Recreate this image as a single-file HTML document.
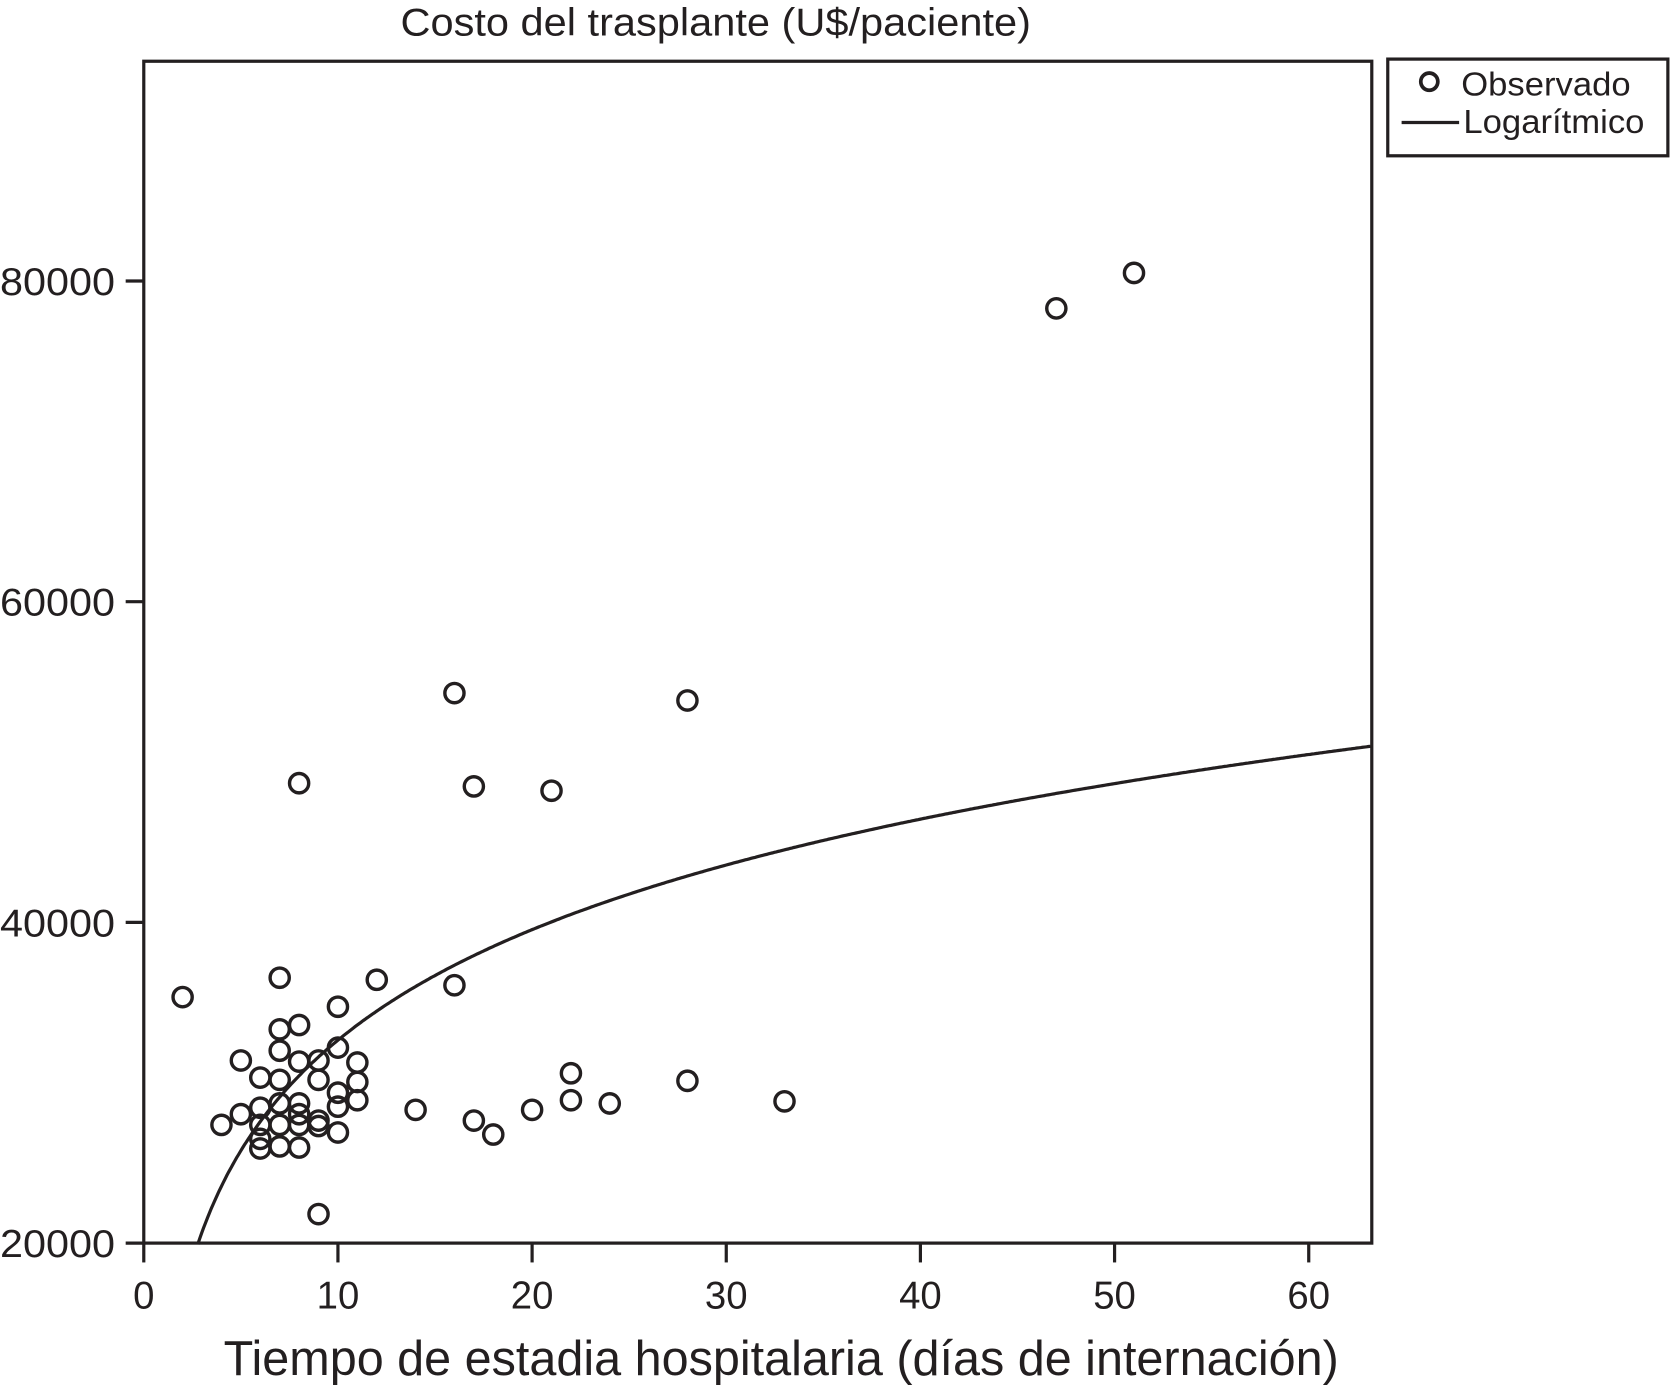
<!DOCTYPE html>
<html><head><meta charset="utf-8"><style>
html,body{margin:0;padding:0;background:#fff;}
svg{display:block;}
text{font-family:"Liberation Sans",sans-serif;fill:#231f20;}
</style></head><body>
<svg id="chart" width="1670" height="1386" viewBox="0 0 1568 1290" preserveAspectRatio="none" xmlns="http://www.w3.org/2000/svg">
<text x="376" y="33" font-size="36" textLength="592" lengthAdjust="spacingAndGlyphs">Costo del trasplante (U$/paciente)</text>
<rect x="135" y="57" width="1153" height="1100" fill="none" stroke="#231f20" stroke-width="3"/>
<g id="axes"></g>
<g id="curve"></g>
<g id="points"></g>
<text x="210" y="1280" font-size="46" textLength="1047" lengthAdjust="spacingAndGlyphs">Tiempo de estadia hospitalaria (días de internación)</text>
<g>
<rect x="1303" y="55" width="263" height="90" fill="#fff" stroke="#231f20" stroke-width="3"/>
<circle cx="1342" cy="76" r="8" fill="none" stroke="#231f20" stroke-width="3.5"/>
<text x="1372" y="89" font-size="31" textLength="159" lengthAdjust="spacingAndGlyphs">Observado</text>
<line x1="1316" y1="114" x2="1370" y2="114" stroke="#231f20" stroke-width="3"/>
<text x="1374" y="124" font-size="31" textLength="170" lengthAdjust="spacingAndGlyphs">Logarítmico</text>
</g>
</svg>
<script>
const xs = [2,7,12,16,10,7,8,7,10,5,8,9,11,6,7,9,11,10,7,11,6,5,4,6,7,9,9,10,10,6,6,7,8,8,8,8,9,14,17,18,20,22,22,24,28,33,16,28,8,17,21,47,51];
const ys = [35340,36550,36420,36080,34740,33330,33600,32000,32190,31390,31320,31390,31260,30320,30180,30180,30050,29380,28710,28910,28440,28040,27370,27370,27370,27640,27300,28510,26900,26500,25900,26030,25960,28710,28040,27370,21810,28310,27640,26770,28310,30590,28910,28710,30120,28840,54300,53840,48680,48480,48210,78290,80500];
const xTicks = [0,10,20,30,40,50,60];
const yTicks = [20000,40000,60000,80000];
const fitA = 9763, fitB = 9942;
const NS = "http://www.w3.org/2000/svg";
const X = v => 135 + v * 18.23;
const Y = v => 1157 - (v - 20000) * 0.014925;
function mk(tag, attrs, parent){const e=document.createElementNS(NS,tag);for(const k in attrs)e.setAttribute(k,attrs[k]);parent.appendChild(e);return e;}
const axes=document.getElementById('axes');
xTicks.forEach(t=>{
  const l=mk('line',{x1:X(t),x2:X(t),y1:1157,y2:1175,stroke:'#231f20','stroke-width':3},axes);
  
  
  const tx=mk('text',{x:X(t),y:1218,'font-size':36,'text-anchor':'middle'},axes);
  tx.textContent=t;
  
  
});
yTicks.forEach(t=>{
  const l=mk('line',{x1:118,x2:135,y1:Y(t),y2:Y(t),stroke:'#231f20','stroke-width':3},axes);
  
  
  const tx=mk('text',{x:0,y:Y(t)+13,'font-size':36,textLength:108,lengthAdjust:'spacingAndGlyphs'},axes);
  tx.textContent=t;
  
  
});
let d='';
for(let x=2.78;x<=63.25;x+=0.1){const y=fitA+fitB*Math.log(x);d+=(d?'L':'M')+X(x).toFixed(1)+','+Y(y).toFixed(1);}
const p=mk('path',{d:d,fill:'none',stroke:'#231f20','stroke-width':3},document.getElementById('curve'));


const pts=document.getElementById('points');
xs.forEach((x,i)=>{
  const c=mk('circle',{cx:X(x),cy:Y(ys[i]),r:9,fill:'none',stroke:'#231f20','stroke-width':3.2},pts);
  
  
});
</script>
</body></html>
